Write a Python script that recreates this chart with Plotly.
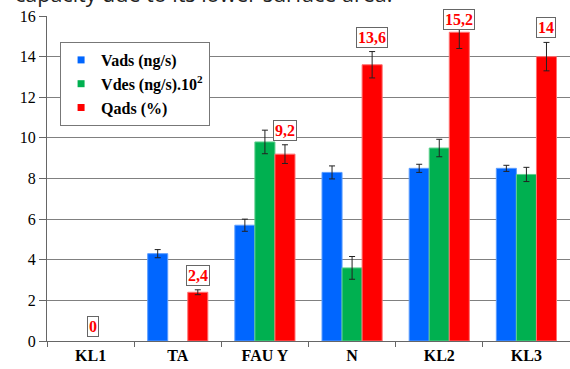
import plotly.graph_objects as go

# Sample categories and measured series
categories = ["KL1", "TA", "FAU Y", "N", "KL2", "KL3"]

vads = [0, 4.3, 5.7, 8.3, 8.5, 8.5]
vads_err = [0, 0.2, 0.3, 0.32, 0.2, 0.15]

vdes = [0, 0, 9.8, 3.6, 9.5, 8.2]
vdes_err = [0, 0, 0.58, 0.56, 0.43, 0.35]

qads = [0, 2.4, 9.2, 13.6, 15.2, 14]
qads_err = [0, 0.12, 0.46, 0.65, 0.8, 0.7]

y_ticks = [0, 2, 4, 6, 8, 10, 12, 14, 16]

SERIF = "Liberation Serif"
BLUE, GREEN, RED = "#0066FF", "#00B050", "#FF0000"

series = [
    ("Vads (ng/s)", vads, vads_err, BLUE, "#5c9dff"),
    ("Vdes (ng/s).10<sup>2</sup>", vdes, vdes_err, GREEN, "#5fd08e"),
    ("Qads (%)", qads, qads_err, RED, "#ff7070"),
]

fig = go.Figure()

for name, vals, errs, color, edge in series:
    # zero readings leave an empty slot: no bar, outline or error caps
    fig.add_trace(go.Bar(
        x=categories, y=[v if v > 0 else None for v in vals],
        name=name, showlegend=False,
        marker=dict(color=color, line=dict(color=edge, width=1)),
        error_y=dict(type="data", array=errs, visible=True,
                     color="#222222", thickness=1, width=3),
    ))

# Legend entries with small square swatches
for name, vals, errs, color, edge in series:
    fig.add_trace(go.Scatter(
        x=[None], y=[None], mode="markers", name="<b>%s</b>" % name,
        marker=dict(symbol="square", size=7, color=color),
    ))

# Boxed value labels above the Qads bars (empty groups get a centred label)
LABEL_CEIL = 15.1
for cat, v, e in zip(categories, qads, qads_err):
    fig.add_annotation(
        x=cat, y=min(v + e, LABEL_CEIL), xref="x", yref="y",
        text="<b>%s</b>" % f"{v:g}".replace(".", ","),
        showarrow=False, yanchor="bottom", yshift=4,
        xshift=20 if v > 0 else 2,
        font=dict(family=SERIF, size=16, color=RED),
        bgcolor="white", bordercolor="#666666", borderwidth=1, borderpad=1,
    )

# Caption line from the surrounding page, partly cut off at the top
fig.add_annotation(
    x=0, y=1, xref="paper", yref="paper", xanchor="left", yanchor="bottom",
    xshift=-34, yshift=6,
    text="capacity due to its lower surface area.",
    showarrow=False, font=dict(family="Open Sans", size=21.5, color="#222222"),
)

fig.update_layout(
    width=570, height=369,
    margin=dict(l=47, r=0, t=16, b=28),
    paper_bgcolor="white", plot_bgcolor="white",
    barmode="group", bargap=0.31, bargroupgap=0,
    showlegend=True,
    legend=dict(
        x=0.025, y=0.92, xanchor="left", yanchor="top",
        bgcolor="white", bordercolor="#777777", borderwidth=1,
        font=dict(family=SERIF, size=16, color="black"),
        tracegroupgap=0,
    ),
    xaxis=dict(
        type="category", tickson="boundaries", ticks="outside", ticklen=5,
        tickcolor="#666666", showline=True, linecolor="#666666", linewidth=1,
        showgrid=False,
        tickfont=dict(family=SERIF, size=16, color="black"),
        tickprefix="<b>", ticksuffix="</b>",
    ),
    yaxis=dict(
        range=[0, 16], tickvals=y_ticks, ticks="outside", ticklen=7,
        tickcolor="#666666", showline=True, linecolor="#666666", linewidth=1,
        showgrid=True, gridcolor="#808080", gridwidth=1, zeroline=False,
        tickfont=dict(family=SERIF, size=16, color="black"),
        tickprefix="<b>", ticksuffix="</b>",
    ),
)

fig.write_html("out.html")
